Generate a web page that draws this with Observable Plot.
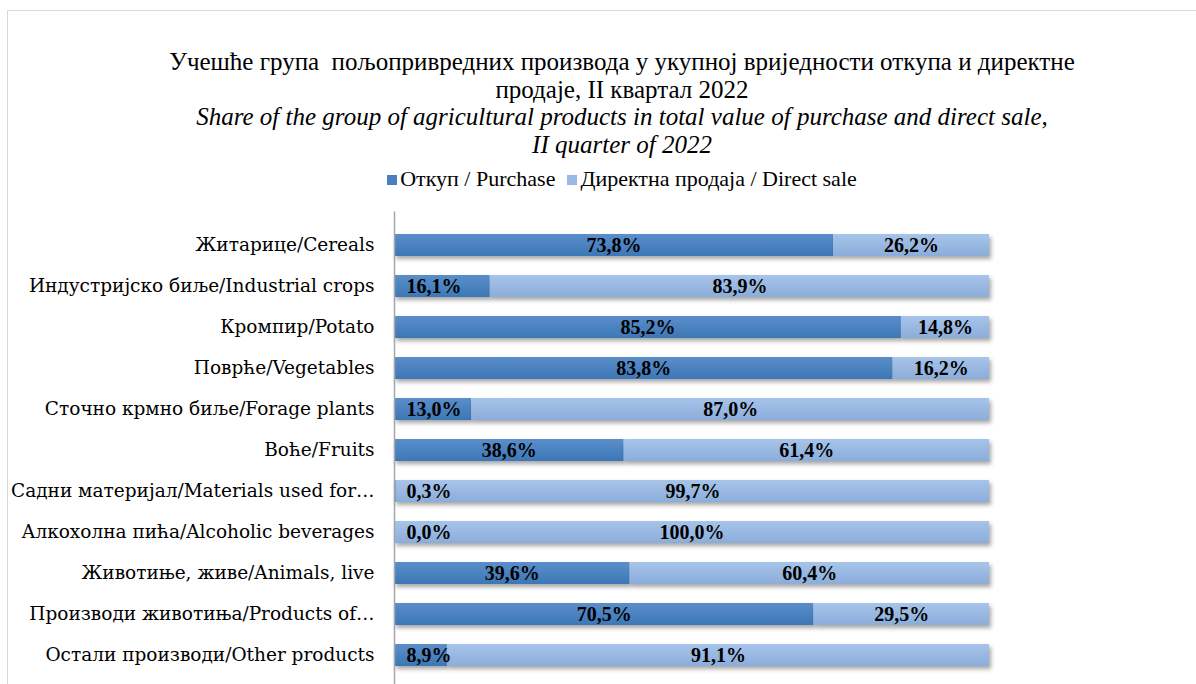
<!DOCTYPE html>
<html>
<head>
<meta charset="utf-8">
<script src="https://cdn.jsdelivr.net/npm/d3@7"></script>
<script src="https://cdn.jsdelivr.net/npm/@observablehq/plot@0.6"></script>
<style>
  html, body { margin: 0; padding: 0; background: #fff; overflow: hidden; }
  #page { position: relative; width: 1196px; height: 684px; overflow: hidden; }
  #frame { position: absolute; left: 7px; top: 10px; width: 1300px; height: 800px;
           border-left: 1.5px solid #d9d9d9; border-top: 1.5px solid #d9d9d9; }
  #title { position: absolute; left: 0; top: 48px; width: 1244px; text-align: center;
           font-family: "Liberation Serif", serif; font-size: 25px; line-height: 27.5px; color: #000; }
  #title .en { font-style: italic; }
  #legend { position: absolute; left: 0; top: 166px; width: 1244px; text-align: center;
            font-family: "Liberation Serif", serif; font-size: 22px; color: #000; }
  #legend span.item { margin: 0 6px; white-space: nowrap; }
  #legend span.sw { display: inline-block; width: 10px; height: 10px; margin-right: 3px; vertical-align: 1px; }
  #chart { position: absolute; left: 0; top: 200px; }
</style>
</head>
<body>
<div id="page">
  <div id="frame"></div>
  <div id="title"></div>
  <div id="legend"></div>
  <div id="chart"></div>
</div>
<script>
const titleLines = [
  "Учешће група  пољопривредних производа у укупној вриједности откупа и директне",
  "продаје, II квартал 2022"
];
const subtitleLines = [
  "Share of the group of agricultural products in total value of purchase and direct sale,",
  "II quarter of 2022"
];
const seriesNames = ["Откуп / Purchase", "Директна продаја / Direct sale"];
const seriesColors = ["#4a80c0", "#98b9e3"];
const categories = [
  "Житарице/Cereals",
  "Индустријско биље/Industrial crops",
  "Кромпир/Potato",
  "Поврће/Vegetables",
  "Сточно крмно биље/Forage plants",
  "Воће/Fruits",
  "Садни материјал/Materials used for…",
  "Алкохолна пића/Alcoholic beverages",
  "Животиње, живе/Animals, live",
  "Производи животиња/Products of…",
  "Остали производи/Other products"
];
const purchase = [73.8, 16.1, 85.2, 83.8, 13.0, 38.6, 0.3, 0.0, 39.6, 70.5, 8.9];
const direct   = [26.2, 83.9, 14.8, 16.2, 87.0, 61.4, 99.7, 100.0, 60.4, 29.5, 91.1];

const rows = categories.map((c, i) => ({cat: c, purchase: purchase[i], direct: direct[i]}));
const fmt = v => v.toFixed(1).replace(".", ",") + "%";

// title
const t = document.getElementById("title");
titleLines.forEach(s => { const d = document.createElement("div"); d.textContent = s; d.style.whiteSpace = "pre"; t.appendChild(d); });
subtitleLines.forEach(s => { const d = document.createElement("div"); d.className = "en"; d.textContent = s; t.appendChild(d); });
// legend
const lg = document.getElementById("legend");
seriesNames.forEach((s, i) => {
  const it = document.createElement("span"); it.className = "item";
  const sw = document.createElement("span"); sw.className = "sw"; sw.style.background = seriesColors[i];
  it.appendChild(sw); it.appendChild(document.createTextNode(s)); lg.appendChild(it);
});

const small = d => d.purchase < 20;
const labelFont = { fontWeight: "bold", fontSize: 20, fill: "#000", fontFamily: "Liberation Serif, serif" };
const chart = Plot.plot({
  width: 1196,
  height: 500,
  marginLeft: 394,
  marginRight: 207,
  marginTop: 11.5,
  marginBottom: 12.5,
  style: { fontFamily: "DejaVu Serif, serif", fontSize: "18.5px", color: "#000", background: "transparent" },
  x: { domain: [0, 100], axis: null },
  y: { domain: categories, padding: 0.47, label: null, tickSize: 0, tickPadding: 20 },
  marks: [
    Plot.barX(rows, { y: "cat", x1: 0, x2: "purchase", fill: "url(#gPurchase)" }),
    Plot.barX(rows, { y: "cat", x1: "purchase", x2: d => d.purchase + d.direct, fill: "url(#gDirect)" }),
    Plot.ruleX([0], { stroke: "#a6a6a6", strokeWidth: 1.5 }),
    Plot.text(rows.filter(d => !small(d)), { y: "cat", x: d => d.purchase / 2, text: d => fmt(d.purchase), ...labelFont }),
    Plot.text(rows.filter(small), { y: "cat", x: 0, text: d => fmt(d.purchase), textAnchor: "start", dx: 12, ...labelFont }),
    Plot.text(rows, { y: "cat", x: d => d.purchase + d.direct / 2, text: d => fmt(d.direct), ...labelFont })
  ]
});

// gradients and shadows
const ns = "http://www.w3.org/2000/svg";
const defs = document.createElementNS(ns, "defs");
function grad(id, top, bottom) {
  const g = document.createElementNS(ns, "linearGradient");
  g.setAttribute("id", id); g.setAttribute("x1", "0"); g.setAttribute("y1", "0"); g.setAttribute("x2", "0"); g.setAttribute("y2", "1");
  [[0, top], [1, bottom]].forEach(([o, c]) => {
    const s = document.createElementNS(ns, "stop"); s.setAttribute("offset", o); s.setAttribute("stop-color", c); g.appendChild(s);
  });
  defs.appendChild(g);
}
grad("gPurchase", "#5b8ecb", "#3c77b6");
grad("gDirect", "#a7c4ea", "#8badda");
const f = document.createElementNS(ns, "filter");
f.setAttribute("id", "shadow"); f.setAttribute("x", "-5%"); f.setAttribute("y", "-50%"); f.setAttribute("width", "110%"); f.setAttribute("height", "220%");
const ds = document.createElementNS(ns, "feDropShadow");
ds.setAttribute("dx", "2"); ds.setAttribute("dy", "3"); ds.setAttribute("stdDeviation", "2");
ds.setAttribute("flood-color", "#000"); ds.setAttribute("flood-opacity", "0.35");
f.appendChild(ds); defs.appendChild(f);
chart.insertBefore(defs, chart.firstChild);
chart.querySelectorAll('g[aria-label="bar"]').forEach(g => g.setAttribute("filter", "url(#shadow)"));
chart.querySelectorAll('g[aria-label="y-axis tick label"] text, g[aria-label="y-axis tick label"]').forEach(e => e.setAttribute("fill", "#000"));

document.getElementById("chart").appendChild(chart);
</script>
</body>
</html>
